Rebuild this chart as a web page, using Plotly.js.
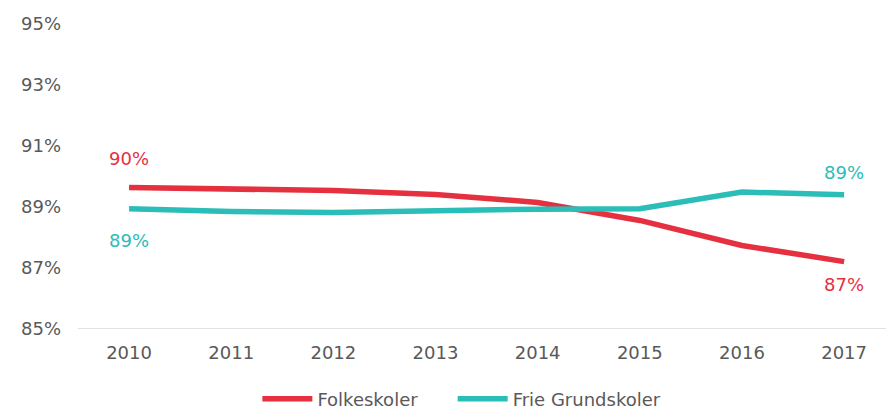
<!DOCTYPE html>
<html>
<head>
<meta charset="utf-8">
<script src="https://cdn.plot.ly/plotly-3.0.1.min.js"></script>
<style>html,body{margin:0;padding:0;background:#fff;}#chart{width:886px;height:409px;}</style>
</head>
<body>
<div id="chart"></div>
<script>
const years = ["2010","2011","2012","2013","2014","2015","2016","2017"];
const folkeskoler = [89.64, 89.60, 89.54, 89.41, 89.15, 88.56, 87.74, 87.21];
const frieGrundskoler = [88.94, 88.85, 88.82, 88.88, 88.93, 88.94, 89.49, 89.40];
const yTicks = [85, 87, 89, 91, 93, 95];
const yTickLabels = ["85%", "87%", "89%", "91%", "93%", "95%"];

const RED = "#E5303F", TEAL = "#2BBDB8", GREY = "#595959";
const FONT = "DejaVu Sans, Verdana, sans-serif";

const traces = [
  {x: years, y: folkeskoler, name: "Folkeskoler", type: "scatter", mode: "lines",
   line: {color: RED, width: 5.5}, legend: "legend"},
  {x: years, y: frieGrundskoler, name: "Frie Grundskoler", type: "scatter", mode: "lines",
   line: {color: TEAL, width: 5.5}, legend: "legend2"}
];

const lab = v => Math.round(v) + "%";
const last = years.length - 1;
// category axis annotations use the category index
const annotations = [
  {x: 0, y: folkeskoler[0], text: lab(folkeskoler[0]), yshift: 29, color: RED},
  {x: 0, y: frieGrundskoler[0], text: lab(frieGrundskoler[0]), yshift: -32, color: TEAL},
  {x: last, y: frieGrundskoler[last], text: lab(frieGrundskoler[last]), yshift: 22, color: TEAL},
  {x: last, y: folkeskoler[last], text: lab(folkeskoler[last]), yshift: -23, color: RED}
].map(a => ({x: a.x, y: a.y, xref: "x", yref: "y", text: a.text, yshift: a.yshift, showarrow: false,
  font: {family: FONT, size: 18, color: a.color}, xanchor: "center", yanchor: "middle"}));

const legendBase = {orientation: "h", xanchor: "left", yref: "container", y: 0.0244, yanchor: "middle",
  font: {family: FONT, size: 18, color: GREY}, itemwidth: 50, bgcolor: "rgba(0,0,0,0)"};

const layout = {
  width: 886, height: 409,
  margin: {l: 78, r: 0, t: 24, b: 80},
  paper_bgcolor: "#fff", plot_bgcolor: "#fff",
  font: {family: FONT, size: 18, color: GREY},
  showlegend: true,
  legend: Object.assign({}, legendBase, {x: 0.222}),
  legend2: Object.assign({}, legendBase, {x: 0.4637}),
  xaxis: {type: "category", range: [-0.5, 7.41], showgrid: false, zeroline: false,
    showline: false, ticks: "", tickfont: {size: 18, color: GREY}, ticklabelstandoff: 11},
  yaxis: {range: [85, 95], tickvals: yTicks, ticktext: yTickLabels, showgrid: false,
    zeroline: false, showline: false, ticks: "", tickfont: {size: 18, color: GREY},
    ticklabelstandoff: 16},
  shapes: [{type: "line", xref: "paper", yref: "y", x0: 0, x1: 1, y0: 85, y1: 85,
    line: {color: "#D9D9D9", width: 1.5}, layer: "below"}],
  annotations: annotations
};

Plotly.newPlot("chart", traces, layout, {displayModeBar: false, staticPlot: true});
</script>
</body>
</html>
